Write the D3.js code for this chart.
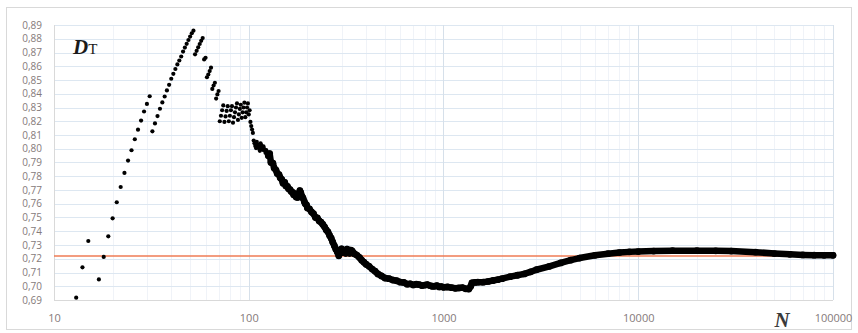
<!DOCTYPE html>
<html>
<head>
<meta charset="utf-8">
<script src="https://cdn.jsdelivr.net/npm/d3@7/dist/d3.min.js"></script>
<style>
  body { margin: 0; background: #fff; }
  svg { display: block; }
</style>
</head>
<body>
<svg id="graph"></svg>
<script>
// single points for small N (one per integer N)
const sparseN = [13, 14, 15, 17, 18, 19, 20, 21, 22, 23, 24, 25, 26, 27, 28, 29, 30, 31,
  32, 33, 34, 35, 36, 37, 38, 39, 40, 41, 42, 43, 44, 45, 46, 47, 48, 49, 50, 51, 52,
  53, 54, 55, 56, 57, 58, 59, 60, 61, 62, 63, 64, 65, 66, 67, 68, 69, 70,
  71, 72, 73, 74, 75, 76, 77, 78, 79, 80, 81, 82, 83, 84, 85, 86, 87, 88, 89, 90,
  91, 92, 93, 94, 95, 96, 97, 98, 99, 100, 101, 102, 103, 104, 105,
  106, 107, 108, 109, 110, 111, 112, 113, 114, 115, 116, 117, 118, 119, 120,
  121, 122, 123, 124, 125]
const sparseD = [0.6917, 0.7138, 0.7329, 0.7050, 0.7213, 0.7363, 0.7494, 0.7611, 0.7722, 0.7824,
  0.7914, 0.7989, 0.8069, 0.8139, 0.8205, 0.8271, 0.8326, 0.8382,
  0.8127, 0.8184, 0.8238, 0.8291, 0.8337, 0.8380, 0.8424, 0.8465, 0.8509, 0.8545, 0.8580,
  0.8613, 0.8642, 0.8671, 0.8707, 0.8736, 0.8763, 0.8791, 0.8816, 0.8840, 0.8859,
  0.8687, 0.8712, 0.8738, 0.8762, 0.8785, 0.8805, 0.8650, 0.8662, 0.8520, 0.8540, 0.8565,
  0.8590, 0.8435, 0.8460, 0.8480, 0.8365, 0.8395, 0.8420,
  0.8200, 0.8240, 0.8280, 0.8315, 0.8195, 0.8235, 0.8275, 0.8310, 0.8200, 0.8240, 0.8280,
  0.8310, 0.8190, 0.8230, 0.8265, 0.8300, 0.8330, 0.8210, 0.8250, 0.8290,
  0.8320, 0.8225, 0.8265, 0.8300, 0.8335, 0.8230, 0.8265, 0.8300, 0.8330, 0.8250, 0.8280,
  0.8195, 0.8165, 0.8140, 0.8115,
  0.8060, 0.8040, 0.8020, 0.8005, 0.8050, 0.8030, 0.8015, 0.8000, 0.7985, 0.8040,
  0.8025, 0.8008, 0.7992, 0.8018, 0.8000,
  0.7985, 0.7970, 0.7990, 0.7975, 0.7960]

// dense part (N > 125), read along the thick band
const denseN = [126, 128, 130, 133, 135, 138, 140, 143, 145, 148, 150, 153, 155, 158, 160,
  163, 165, 168, 170, 173, 175, 178, 180, 183, 185, 188, 190, 193, 195, 198,
  200, 205, 210, 215, 220, 225, 230, 235, 240, 245, 250, 255, 260, 265, 270, 275, 280,
  285, 290, 295, 300, 305, 310, 315, 320, 325, 330, 335, 340, 345, 350, 360,
  370, 380, 390, 400, 415, 430, 445, 460, 480, 500, 525, 550, 575, 600, 625, 650, 675,
  700, 725, 750, 775, 800, 825, 850, 875, 900, 925, 950, 975,
  1000, 1050, 1100, 1150, 1200, 1250, 1300, 1350, 1380, 1400, 1450, 1500, 1600, 1700,
  1800, 1900, 2000, 2200, 2400, 2600, 2800, 3000, 3500, 4000, 4500, 5000, 6000, 7000,
  8000, 9000, 10000, 12000, 15000, 20000, 25000, 30000, 40000, 50000, 60000, 70000,
  80000, 90000, 100000]
const denseD = [0.7950, 0.7965, 0.7900, 0.7895, 0.7860, 0.7845, 0.7820, 0.7812, 0.7790,
  0.7775, 0.7750, 0.7756, 0.7730, 0.7726, 0.7710,
  0.7702, 0.7690, 0.7682, 0.7665, 0.7672, 0.7650, 0.7646, 0.7660, 0.7695, 0.7680, 0.7652,
  0.7640, 0.7615, 0.7600, 0.7592,
  0.7570, 0.7562, 0.7540, 0.7528, 0.7500, 0.7497, 0.7475, 0.7466, 0.7450, 0.7432, 0.7410,
  0.7396, 0.7370, 0.7350, 0.7320, 0.7295, 0.7270,
  0.7250, 0.7222, 0.7260, 0.7272, 0.7245, 0.7256, 0.7240, 0.7270, 0.7250, 0.7240, 0.7262,
  0.7255, 0.7240, 0.7235, 0.7225,
  0.7210, 0.7190, 0.7175, 0.7160, 0.7145, 0.7125, 0.7110, 0.7090, 0.7075, 0.7060, 0.7055,
  0.7045, 0.7040, 0.7030, 0.7028, 0.7015, 0.7018,
  0.7010, 0.7015, 0.7012, 0.7005, 0.7008, 0.7012, 0.7005, 0.7000, 0.7000, 0.7005, 0.6995,
  0.6998,
  0.6992, 0.6995, 0.6990, 0.6985, 0.6988, 0.6990, 0.6982, 0.6980, 0.7000, 0.7025, 0.7028,
  0.7030, 0.7030, 0.7035,
  0.7042, 0.7048, 0.7055, 0.7070, 0.7080, 0.7090, 0.7105, 0.7120, 0.7145, 0.7170, 0.7190,
  0.7205, 0.7225, 0.7237,
  0.7245, 0.7250, 0.7252, 0.7256, 0.7259, 0.7259, 0.7258, 0.7256, 0.7248, 0.7238, 0.7232,
  0.7228, 0.7226, 0.7225, 0.7225]

const refLevel = 0.722
const yTicks = [0.69, 0.70, 0.71, 0.72, 0.73, 0.74, 0.75, 0.76, 0.77, 0.78, 0.79, 0.80,
  0.81, 0.82, 0.83, 0.84, 0.85, 0.86, 0.87, 0.88, 0.89]
const xTicks = [10, 100, 1000, 10000, 100000]

const svgDimensions = { width: 858, height: 333 }
const plot = { left: 54, right: 833, top: 25, bottom: 300 }

const svg = d3.select('#graph')
  .attr('width', svgDimensions.width)
  .attr('height', svgDimensions.height)

// chart frame
svg.append('rect')
  .attr('x', 6.5).attr('y', 7.5)
  .attr('width', 845).attr('height', 322)
  .attr('fill', '#fff')
  .attr('stroke', '#d9d9d9')

const x = d3.scaleLog().domain([10, 100000]).range([plot.left, plot.right])
const y = d3.scaleLinear().domain([0.69, 0.89]).range([plot.bottom, plot.top])

// minor vertical grid (2..9 of each decade)
const minorTicks = []
for (let dec = 10; dec < 100000; dec *= 10) {
  for (let k = 2; k <= 9; k++) minorTicks.push(dec * k)
}
svg.append('g')
  .selectAll('line')
  .data(minorTicks)
  .enter()
  .append('line')
  .attr('x1', d => Math.round(x(d)) + 0.5).attr('x2', d => Math.round(x(d)) + 0.5)
  .attr('y1', plot.top).attr('y2', plot.bottom)
  .attr('stroke', '#f0f3f8')
  .attr('stroke-width', 1)

// horizontal grid
svg.append('g')
  .selectAll('line')
  .data(yTicks)
  .enter()
  .append('line')
  .attr('x1', plot.left).attr('x2', plot.right)
  .attr('y1', d => Math.round(y(d)) + 0.5).attr('y2', d => Math.round(y(d)) + 0.5)
  .attr('stroke', '#dde7f1')
  .attr('stroke-width', 1)

// decade grid
svg.append('g')
  .selectAll('line')
  .data(xTicks)
  .enter()
  .append('line')
  .attr('x1', d => Math.round(x(d)) + 0.5).attr('x2', d => Math.round(x(d)) + 0.5)
  .attr('y1', plot.top).attr('y2', plot.bottom)
  .attr('stroke', d => d === 10 ? '#d9d9d9' : '#d6e0ea')
  .attr('stroke-width', 1)

// bottom line of plot
svg.append('line')
  .attr('x1', plot.left).attr('x2', plot.right)
  .attr('y1', plot.bottom + 0.5).attr('y2', plot.bottom + 0.5)
  .attr('stroke', '#d9d9d9')

// y axis labels
const y_axis = d3.axisLeft(y)
  .tickValues(yTicks)
  .tickSize(0)
  .tickPadding(12)
  .tickFormat(d => d3.format('.2f')(d).replace('.', ','))
const yAxisG = svg.append('g')
  .attr('transform', `translate(${plot.left}, 0)`)
  .call(y_axis)
yAxisG.select('.domain').remove()
yAxisG.selectAll('text')
  .attr('fill', '#857a7a')
  .style('font-family', '"Open Sans", sans-serif')
  .style('font-size', '10px')

// x axis labels
const x_axis = d3.axisBottom(x)
  .tickValues(xTicks)
  .tickSize(0)
  .tickPadding(14)
  .tickFormat(d3.format('d'))
const xAxisG = svg.append('g')
  .attr('transform', `translate(0, ${plot.bottom})`)
  .call(x_axis)
xAxisG.select('.domain').remove()
xAxisG.selectAll('text')
  .attr('fill', '#857a7a')
  .style('font-family', '"Open Sans", sans-serif')
  .style('font-size', '11px')

// reference level
svg.append('line')
  .attr('x1', plot.left).attr('x2', plot.right)
  .attr('y1', y(refLevel)).attr('y2', y(refLevel))
  .attr('stroke', '#ef7b55')
  .attr('stroke-width', 1.5)

// dense band
const densePoints = denseN.map((n, i) => [n, denseD[i]])
svg.append('path')
  .datum(densePoints)
  .attr('d', d3.line().x(d => x(d[0])).y(d => y(d[1])))
  .attr('fill', 'none')
  .attr('stroke', '#000')
  .attr('stroke-width', 6.5)
  .attr('stroke-linejoin', 'round')
  .attr('stroke-linecap', 'round')

svg.append('g')
  .selectAll('circle')
  .data(densePoints)
  .enter()
  .append('circle')
  .attr('cx', d => x(d[0]))
  .attr('cy', d => y(d[1]))
  .attr('r', 3.4)
  .attr('fill', '#000')

// single points
svg.append('g')
  .selectAll('circle')
  .data(sparseN.map((n, i) => [n, sparseD[i]]))
  .enter()
  .append('circle')
  .attr('cx', d => x(d[0]))
  .attr('cy', d => y(d[1]))
  .attr('r', 2.1)
  .attr('fill', '#000')

// labels
const dt = svg.append('text')
  .attr('x', 73).attr('y', 54)
  .attr('fill', '#1a1a1a')
  .style('font-family', '"Liberation Serif", serif')
dt.append('tspan')
  .style('font-size', '21px').style('font-weight', 'bold').style('font-style', 'italic')
  .text('D')
dt.append('tspan')
  .style('font-size', '15px')
  .text('T')

svg.append('text')
  .attr('x', 782).attr('y', 327)
  .attr('text-anchor', 'middle')
  .attr('fill', '#3a3a3a')
  .style('font-family', '"Liberation Serif", serif')
  .style('font-size', '21px').style('font-weight', 'bold').style('font-style', 'italic')
  .text('N')
</script>
</body>
</html>
